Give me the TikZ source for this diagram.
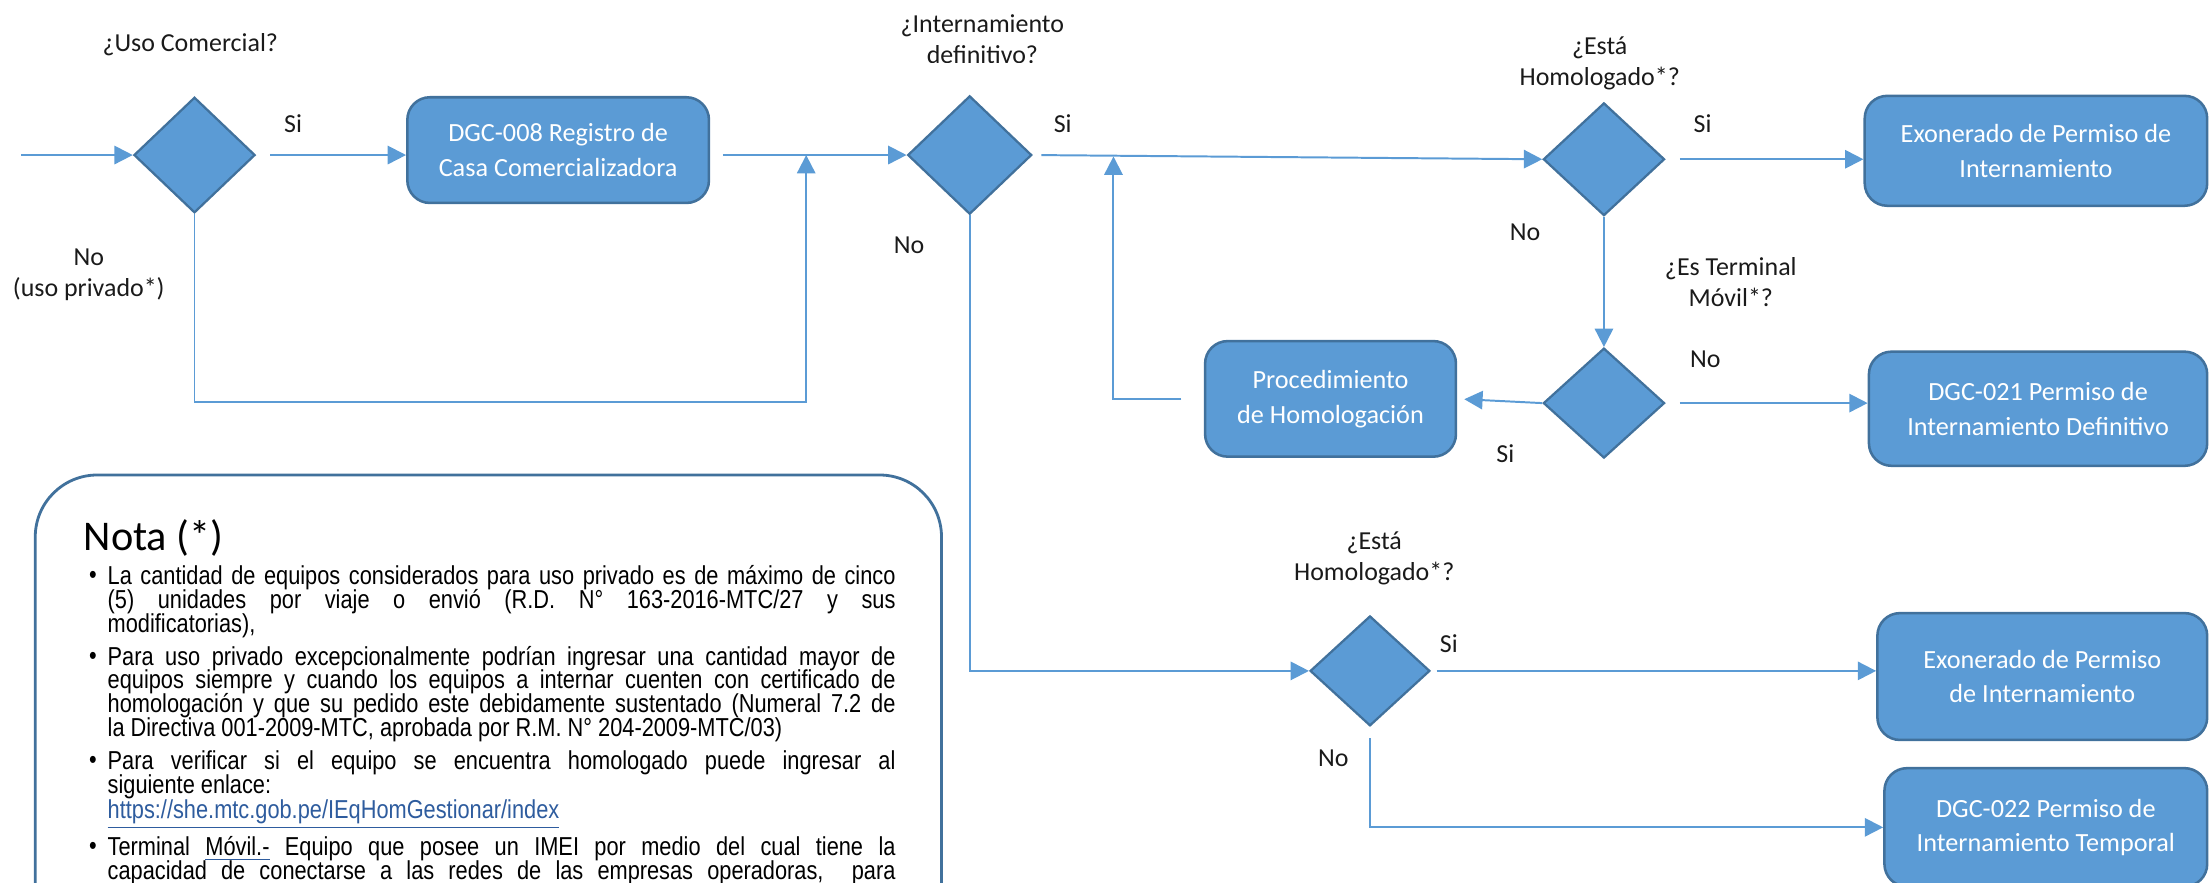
\documentclass[tikz,border=0pt]{standalone}
\usepackage{fontspec}
\setmainfont{Carlito}
\newfontfamily\notefont[FakeStretch=0.84]{Liberation Sans}
\usetikzlibrary{shapes.geometric,arrows.meta}
\definecolor{fillblue}{HTML}{5B9BD5}
\definecolor{edgeblue}{HTML}{41719C}
\definecolor{lineblue}{HTML}{5B9BD5}
\definecolor{linkblue}{HTML}{2E5C9E}
\definecolor{labelgray}{HTML}{1A1A1A}
\begin{document}
\begin{tikzpicture}[x=0.5pt,y=-0.5pt,
  dec/.style={diamond, draw=edgeblue, fill=fillblue, line width=0.8pt, inner sep=0pt, minimum width=43pt, minimum height=41pt},
  procbox/.style={rounded corners=8pt, draw=edgeblue, fill=fillblue, line width=0.9pt, text=white, align=center, font=\fontsize{9.3}{12.3}\selectfont, inner sep=0pt},
  lbl/.style={text=labelgray, align=center, font=\fontsize{9.2}{11}\selectfont, inner sep=0pt},
  conn/.style={draw=lineblue, line width=0.7pt, -{Triangle[length=6.5pt,width=6.5pt]}},
  notebox/.style={rounded corners=22pt, draw=edgeblue, line width=1pt, fill=white},
  nl/.style={anchor=west, inner sep=0pt, text=black, font=\notefont\fontsize{9.2}{9.5}\selectfont},
  bul/.style={anchor=center, inner sep=0pt, text=black, font=\notefont\fontsize{9.2}{9.5}\selectfont}
]
\useasboundingbox (0,0) rectangle (1568,626);
\clip (0,0) rectangle (1568,626);

% decisions
\node[dec] (d1) at (138,110) {};
\node[dec, minimum width=44pt, minimum height=42pt] (d2) at (688,110) {};
\node[dec, minimum height=40pt] (d3) at (1138,113) {};
\node[dec, minimum height=39pt] (d5) at (1138,286) {};
\node[dec, minimum width=42.5pt, minimum height=39pt] (d4) at (972,476) {};

% process boxes
\node[procbox, minimum width=107pt, minimum height=37.5pt] (b1) at (396,106.5) {DGC-008 Registro de\\Casa Comercializadora};
\node[procbox, minimum width=121.5pt, minimum height=39pt] (exo1) at (1444.5,107) {Exonerado de Permiso de\\Internamiento};
\node[procbox, minimum width=120pt, minimum height=40.5pt] (dgc21) at (1446,290) {DGC-021 Permiso de\\Internamiento Definitivo};
\node[procbox, minimum width=89pt, minimum height=41pt] (proc) at (944,283) {Procedimiento\\de Homologación};
\node[procbox, minimum width=117pt, minimum height=45pt] (exo2) at (1449,480) {Exonerado de Permiso\\de Internamiento};
\node[procbox, minimum width=114.5pt, minimum height=42pt] (dgc22) at (1451.5,587) {DGC-022 Permiso de\\Internamiento Temporal};

% labels
\node[lbl] (q1) at (135,32) {¿Uso Comercial?};
\node[lbl] (s1) at (208,88) {Si};
\node[lbl] (n1) at (63,195) {No\\(uso privado*)};
\begin{scope}
\clip (600,0) rectangle (800,44);
\node[lbl] (q2) at (697,28) {¿Internamiento\\definitivo?};
\end{scope}
\node[lbl] (s2) at (754,88) {Si};
\node[lbl] (n2) at (645,174) {No};
\node[lbl] (q3) at (1135,45) {¿Está\\Homologado*?};
\node[lbl] (s3) at (1208,88) {Si};
\node[lbl] (n3) at (1082,165) {No};
\node[lbl] (q5) at (1228,200) {¿Es Terminal\\Móvil*?};
\node[lbl] (n5) at (1210,255) {No};
\node[lbl] (s5) at (1068,322) {Si};
\node[lbl] (q4) at (975,396) {¿Está\\Homologado*?};
\node[lbl] (s4) at (1028,457) {Si};
\node[lbl] (n4) at (946,538) {No};

% connectors
\coordinate (in0) at (15,110);
\coordinate (c1) at (572,285);
\coordinate (j1) at (572,110);
\coordinate (c2) at (790,283);
\coordinate (j2) at (790,111);
\draw[conn] (in0) -- (d1.west);
\draw[conn, shorten <=5pt] (d1.east) -- (d1.east -| b1.west);
\draw[conn] (d1.south) |- (c1) -- (j1);
\draw[conn, shorten <=4.5pt] (b1.east |- d2.west) -- (d2.west);
\draw[conn, shorten <=3pt] (d2.east) -- (d3.west);
\draw[conn] (d2.south) |- (d4.west);
\draw[conn, shorten <=8pt] (proc.west) -- (c2) -- (j2);
\draw[conn, shorten <=5pt] (d3.east) -- (d3.east -| exo1.west);
\draw[conn] (d3.south) -- (d5.north);
\draw[conn, shorten <=5pt] (d5.east) -- (d5.east -| dgc21.west);
\draw[conn, shorten >=2.5pt] (d5.west) -- (proc.east);
\draw[conn, shorten <=2pt] (d4.east) -- (d4.east -| exo2.west);
\draw[conn, shorten <=4pt] (d4.south) |- (dgc22.west);

% note box
\node[notebox, minimum width=321.5pt, minimum height=211.5pt, inner sep=0pt] (nota) at (346.5,548.5) {};
\node[anchor=west, inner sep=0pt, text=black, font=\fontsize{15}{16}\selectfont] (ntitle) at (59,382) {Nota (*)};

\node[bul] (bu1) at (66,410) {•};
\node[nl] (l1) at (76,410) {\makebox[279.5pt][s]{La cantidad de equipos considerados para uso privado es de máximo de cinco}};
\node[nl] (l2) at (76,427) {\makebox[279.5pt][s]{(5) unidades por viaje o envió (R.D. N° 163-2016-MTC/27 y sus}};
\node[nl] (l3) at (76,444) {modificatorias),};
\node[bul] (bu2) at (66,467) {•};
\node[nl] (l4) at (76,467) {\makebox[279.5pt][s]{Para uso privado excepcionalmente podrían ingresar una cantidad mayor de}};
\node[nl] (l5) at (76,484) {\makebox[279.5pt][s]{equipos siempre y cuando los equipos a internar cuenten con certificado de}};
\node[nl] (l6) at (76,501) {\makebox[279.5pt][s]{homologación y que su pedido este debidamente sustentado (Numeral 7.2 de}};
\node[nl] (l7) at (76,518) {la Directiva 001-2009-MTC, aprobada por R.M. N° 204-2009-MTC/03)};
\node[bul] (bu3) at (66,541) {•};
\node[nl] (l8) at (76,541) {\makebox[279.5pt][s]{Para verificar si el equipo se encuentra homologado puede ingresar al}};
\node[nl] (l9) at (76,558) {siguiente enlace:};
\node[nl, text=linkblue] (l10) at (76,578) {\underline{https://she.mtc.gob.pe/IEqHomGestionar/index}};
\node[bul] (bu4) at (66,602) {•};
\node[nl] (l11) at (76,602) {\makebox[279.5pt][s]{Terminal \textcolor{linkblue}{\underline{\textcolor{black}{Móvil.-}}} Equipo que posee un IMEI por medio del cual tiene la}};
\node[nl] (l12) at (76,619) {\makebox[279.5pt][s]{capacidad de conectarse a las redes de las empresas operadoras,\ \ para}};
\end{tikzpicture}
\end{document}
